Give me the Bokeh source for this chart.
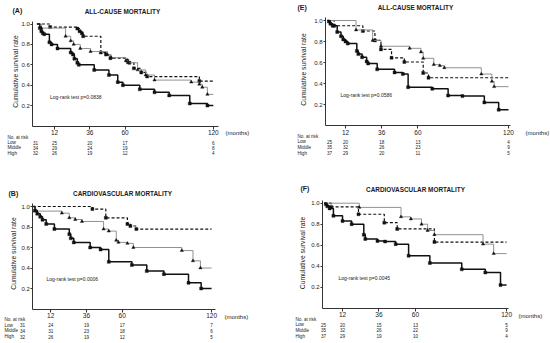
import math
from bokeh.plotting import figure
from bokeh.models import (Range1d, FixedTicker, Label, LabelSet, ColumnDataSource,
                          NumeralTickFormatter)
from bokeh.core.properties import value
from bokeh.layouts import row, column
from bokeh.embed import file_html
from bokeh.resources import INLINE

FONT = "Liberation Sans"

groups = ["Low", "Middle", "High"]
risk_months = [0, 12, 36, 60, 120]
x_ticks = [12, 36, 60, 120]
y_ticks = [0.2, 0.4, 0.6, 0.8, 1.0]
end_month = 120

# ---------------- Panel A : all-cause mortality ----------------
A_title = "ALL-CAUSE MORTALITY"
A_pval = "Log-rank test p=0.0838"
A_low_t = [9, 27.5, 29, 30.5, 31.5, 43.5, 47, 50, 61.5, 63, 66, 71, 75, 110.5]
A_low_s = [0.97, 0.955, 0.93, 0.91, 0.88, 0.72, 0.70, 0.665, 0.64, 0.62, 0.565, 0.525, 0.485, 0.44]
A_mid_t = [3, 19.5, 23, 25, 29.5, 36.5, 48, 50.5, 60.5, 62, 68.5, 74, 80, 105, 110.5, 112.5, 116]
A_mid_s = [0.96, 0.88, 0.835, 0.80, 0.76, 0.73, 0.70, 0.67, 0.64, 0.62, 0.55, 0.50, 0.45, 0.43, 0.41, 0.38, 0.31]
A_high_t = [2, 3, 4, 5, 8.5, 10, 14, 23, 24.5, 25.5, 27.5, 28.5, 39, 49, 55, 58.5, 70, 80, 90, 104, 116]
A_high_s = [0.96, 0.93, 0.91, 0.90, 0.82, 0.80, 0.76, 0.72, 0.70, 0.66, 0.62, 0.60, 0.55, 0.50, 0.43, 0.40,
            0.36, 0.33, 0.30, 0.22, 0.20]
A_risk_low = [31, 25, 20, 17, 6]
A_risk_mid = [34, 29, 24, 19, 8]
A_risk_high = [32, 26, 19, 12, 4]

# ---------------- Panel E : all-cause mortality ----------------
E_title = "ALL-CAUSE MORTALITY"
E_pval = "Log-rank test p=0.0586"
E_low_t = [4.5, 23.5, 31.5, 35.5, 42.5, 51, 63.5, 67]
E_low_s = [0.95, 0.90, 0.81, 0.725, 0.645, 0.605, 0.50, 0.455]
E_mid_t = [19, 30, 35.5, 54.5, 62, 63.5, 70.5, 74.5, 77.5, 102, 109, 110.5]
E_mid_s = [0.91, 0.81, 0.755, 0.735, 0.70, 0.64, 0.58, 0.57, 0.55, 0.49, 0.42, 0.37]
E_high_t = [1, 2, 3.5, 6.5, 9, 10.5, 12, 13.5, 19.5, 20.5, 23, 26, 27, 33, 44.5, 50, 53.5, 69.5, 80,
            89.5, 104, 113.5]
E_high_s = [0.99, 0.97, 0.95, 0.89, 0.85, 0.82, 0.80, 0.78, 0.71, 0.68, 0.65, 0.61, 0.59, 0.535, 0.505,
            0.49, 0.365, 0.35, 0.285, 0.28, 0.22, 0.15]
E_risk_low = [25, 20, 18, 13, 4]
E_risk_mid = [35, 32, 26, 23, 9]
E_risk_high = [37, 29, 20, 11, 5]

# ---------------- Panel B : cardiovascular mortality ----------------
B_title = "CARDIOVASCULAR MORTALITY"
B_pval = "Log-rank test p=0.0006"
B_low_t = [40, 49, 63.5, 65.5, 69.5]
B_low_s = [0.975, 0.89, 0.83, 0.81, 0.78]
B_mid_t = [1.5, 19.5, 24.5, 28.5, 33, 47.5, 51, 56, 57.5, 63.5, 67.5, 100, 107.5, 112.5]
B_mid_s = [0.955, 0.935, 0.89, 0.873, 0.854, 0.78, 0.76, 0.67, 0.65, 0.64, 0.60, 0.57, 0.47, 0.40]
B_high_t = [1.5, 3, 5, 6.5, 9, 14.5, 24.5, 25.5, 27.5, 38.5, 45.5, 51, 66.5, 76.5, 88, 104.5, 113]
B_high_s = [0.96, 0.93, 0.90, 0.87, 0.83, 0.78, 0.73, 0.69, 0.65, 0.60, 0.58, 0.46, 0.43, 0.37, 0.34,
            0.255, 0.20]
B_risk_low = [31, 24, 19, 17, 7]
B_risk_mid = [34, 31, 23, 18, 6]
B_risk_high = [32, 26, 19, 12, 5]

# ---------------- Panel F : cardiovascular mortality ----------------
F_title = "CARDIOVASCULAR MORTALITY"
F_pval = "Log-rank test p=0.0045"
F_low_t = [4.5, 22.5, 39.5, 48, 72.5]
F_low_s = [0.965, 0.895, 0.815, 0.755, 0.63]
F_mid_t = [23, 50.5, 57, 64, 68, 72.5, 104.5, 111.5]
F_mid_s = [0.96, 0.87, 0.85, 0.80, 0.74, 0.70, 0.61, 0.52]
F_high_t = [1, 2, 3.5, 6, 12, 18, 26, 27, 35, 40, 47, 55.5, 69.5, 90.5, 106, 116]
F_high_s = [0.99, 0.97, 0.95, 0.88, 0.83, 0.80, 0.70, 0.66, 0.64, 0.635, 0.61, 0.50, 0.43, 0.37, 0.34, 0.22]
F_risk_low = [25, 20, 15, 13, 5]
F_risk_mid = [35, 32, 26, 22, 9]
F_risk_high = [37, 29, 19, 10, 4]

# ---------------- styles ----------------
STYLE = {
    "Low": dict(color="#111111", width=1.2, dash="3 2", marker="square", msize=3.0),
    "Middle": dict(color="#858585", width=0.9, dash="solid", marker="triangle", msize=3.3),
    "High": dict(color="#111111", width=1.5, dash="solid", marker="square", msize=3.0),
}
TXT = "#1a1a1a"

# ---------------- geometry (page pixels) ----------------
GEOM = {
    "A": dict(canvas=(0, 0, 275, 165), ax_x=32.3, x0=36.4, ppm=1.47, x_end=218, y0=125.5, y1=23.5,
              letter=(12, 10), title=(122, 11), ylab=(15, 71), months=(225, 132), pval=(49.5, 96),
              lab_x=7, n0_x=35, risk_y=[137, 142, 147.3, 152.5]),
    "E": dict(canvas=(275, 0, 275, 165), ax_x=325, x0=326.9, ppm=1.509, x_end=510, y0=125, y1=20,
              letter=(297, 7), title=(415, 7), ylab=(303, 69), months=(525, 132), pval=(340, 94),
              lab_x=297, n0_x=329, risk_y=[136, 141.3, 146.7, 152.5]),
    "B": dict(canvas=(0, 165, 275, 177), ax_x=32.3, x0=32.3, ppm=1.49, x_end=215, y0=308.5, y1=206,
              letter=(8, 193), title=(122, 193), ylab=(12.5, 253), months=(224, 316), pval=(46, 278),
              lab_x=4, n0_x=22, risk_y=[319, 324.5, 330, 336]),
    "F": dict(canvas=(275, 165, 275, 177), ax_x=322, x0=323.8, ppm=1.519, x_end=508, y0=307.7, y1=202.7,
              letter=(300, 188), title=(415, 189), ylab=(301.7, 252.5), months=(518, 315), pval=(338, 277),
              lab_x=295, n0_x=323, risk_y=[319, 324.3, 329.7, 335.5]),
}

PANELS = {
    "A": dict(title=A_title, pval=A_pval,
              curves={"Low": (A_low_t, A_low_s), "Middle": (A_mid_t, A_mid_s), "High": (A_high_t, A_high_s)},
              risk={"Low": A_risk_low, "Middle": A_risk_mid, "High": A_risk_high}),
    "E": dict(title=E_title, pval=E_pval,
              curves={"Low": (E_low_t, E_low_s), "Middle": (E_mid_t, E_mid_s), "High": (E_high_t, E_high_s)},
              risk={"Low": E_risk_low, "Middle": E_risk_mid, "High": E_risk_high}),
    "B": dict(title=B_title, pval=B_pval,
              curves={"Low": (B_low_t, B_low_s), "Middle": (B_mid_t, B_mid_s), "High": (B_high_t, B_high_s)},
              risk={"Low": B_risk_low, "Middle": B_risk_mid, "High": B_risk_high}),
    "F": dict(title=F_title, pval=F_pval,
              curves={"Low": (F_low_t, F_low_s), "Middle": (F_mid_t, F_mid_s), "High": (F_high_t, F_high_s)},
              risk={"Low": F_risk_low, "Middle": F_risk_mid, "High": F_risk_high}),
}


def make_panel(key):
    spec, g = PANELS[key], GEOM[key]
    cx, cy, W, H = g["canvas"]
    x0, ppm, y0, y1 = g["x0"], g["ppm"], g["y0"], g["y1"]
    ypp = y0 - y1

    def mx(px):
        return (px - x0) / ppm

    def my(py):
        return (y0 - py) / ypp

    # the frame covers the whole canvas; axes are pinned at fixed data locations
    p = figure(width=W, height=H, x_range=Range1d(mx(cx), mx(cx + W)), y_range=Range1d(my(cy + H), my(cy)),
               output_backend="svg", toolbar_location=None,
               min_border_left=0, min_border_right=0, min_border_top=0, min_border_bottom=0)
    p.grid.visible = False
    p.outline_line_color = None
    p.background_fill_color = "white"
    p.border_fill_color = "white"

    x_lo, x_hi = mx(g["ax_x"]), mx(g["x_end"])
    for ax in (p.xaxis[0], p.yaxis[0]):
        ax.axis_line_color = "#333333"
        ax.axis_line_width = 1
        ax.major_tick_line_color = "#333333"
        ax.major_tick_in = 0
        ax.minor_tick_line_color = None
        ax.major_label_text_font = FONT
        ax.major_label_text_color = "#222222"
    p.xaxis.fixed_location = 0
    p.xaxis.bounds = (x_lo, x_hi)
    p.xaxis.ticker = FixedTicker(ticks=x_ticks)
    p.xaxis.major_tick_out = 3
    p.xaxis.major_label_standoff = 1
    p.xaxis.major_label_text_font_size = "6.5px"
    p.yaxis.fixed_location = x_lo
    p.yaxis.bounds = (0, 1.025)
    p.yaxis.ticker = FixedTicker(ticks=y_ticks)
    p.yaxis.formatter = NumeralTickFormatter(format="0.0")
    p.yaxis.major_tick_out = 2
    p.yaxis.major_label_standoff = 1
    p.yaxis.major_label_text_font_size = "6px"

    for grp in groups:
        st = STYLE[grp]
        t, s = spec["curves"][grp]
        xs = [0] + list(t) + [end_month]
        ys = [1.0] + list(s) + [s[-1]]
        p.step(xs, ys, mode="after", line_color=st["color"], line_width=st["width"], line_dash=st["dash"])
        p.scatter(t, s, marker=st["marker"], size=st["msize"], fill_color="#111111",
                  line_color="#111111", line_width=0.4)

    def lab(pos, text, size, bold=False, align="left", angle=0.0):
        p.add_layout(Label(x=mx(pos[0]), y=my(pos[1]), text=text, text_font=FONT,
                           text_font_size=f"{size}px", text_font_style="bold" if bold else "normal",
                           text_align=align, text_baseline="middle", angle=angle, text_color=TXT))

    lab(g["letter"], f"({key})", 7, bold=True)
    lab(g["title"], spec["title"], 6.4, bold=True, align="center")
    lab(g["ylab"], "Cumulative survival rate", 6.8, align="center", angle=math.pi / 2)
    lab(g["months"], "(months)", 6)
    lab(g["pval"], spec["pval"], 5)

    ry = g["risk_y"]
    names = ColumnDataSource(dict(x=[mx(g["lab_x"])] * 4, y=[my(v) for v in ry],
                                  text=["No. at risk"] + groups))
    p.add_layout(LabelSet(x="x", y="y", text="text", source=names, text_font=value(FONT),
                          text_font_size=value("4.6px"), text_align=value("left"),
                          text_baseline=value("middle"), text_color=value(TXT)))
    nx, ny, nt = [], [], []
    for i, grp in enumerate(groups):
        for j, m in enumerate(risk_months):
            nx.append(mx(g["n0_x"]) if j == 0 else m)
            ny.append(my(ry[i + 1]))
            nt.append(str(spec["risk"][grp][j]))
    nums = ColumnDataSource(dict(x=nx, y=ny, text=nt))
    p.add_layout(LabelSet(x="x", y="y", text="text", source=nums, text_font=value(FONT),
                          text_font_size=value("4.6px"), text_align=value("center"),
                          text_baseline=value("middle"), text_color=value(TXT)))
    return p


layout = column(row(make_panel("A"), make_panel("E")), row(make_panel("B"), make_panel("F")))
open("out.html", "w").write(file_html(layout, INLINE))
